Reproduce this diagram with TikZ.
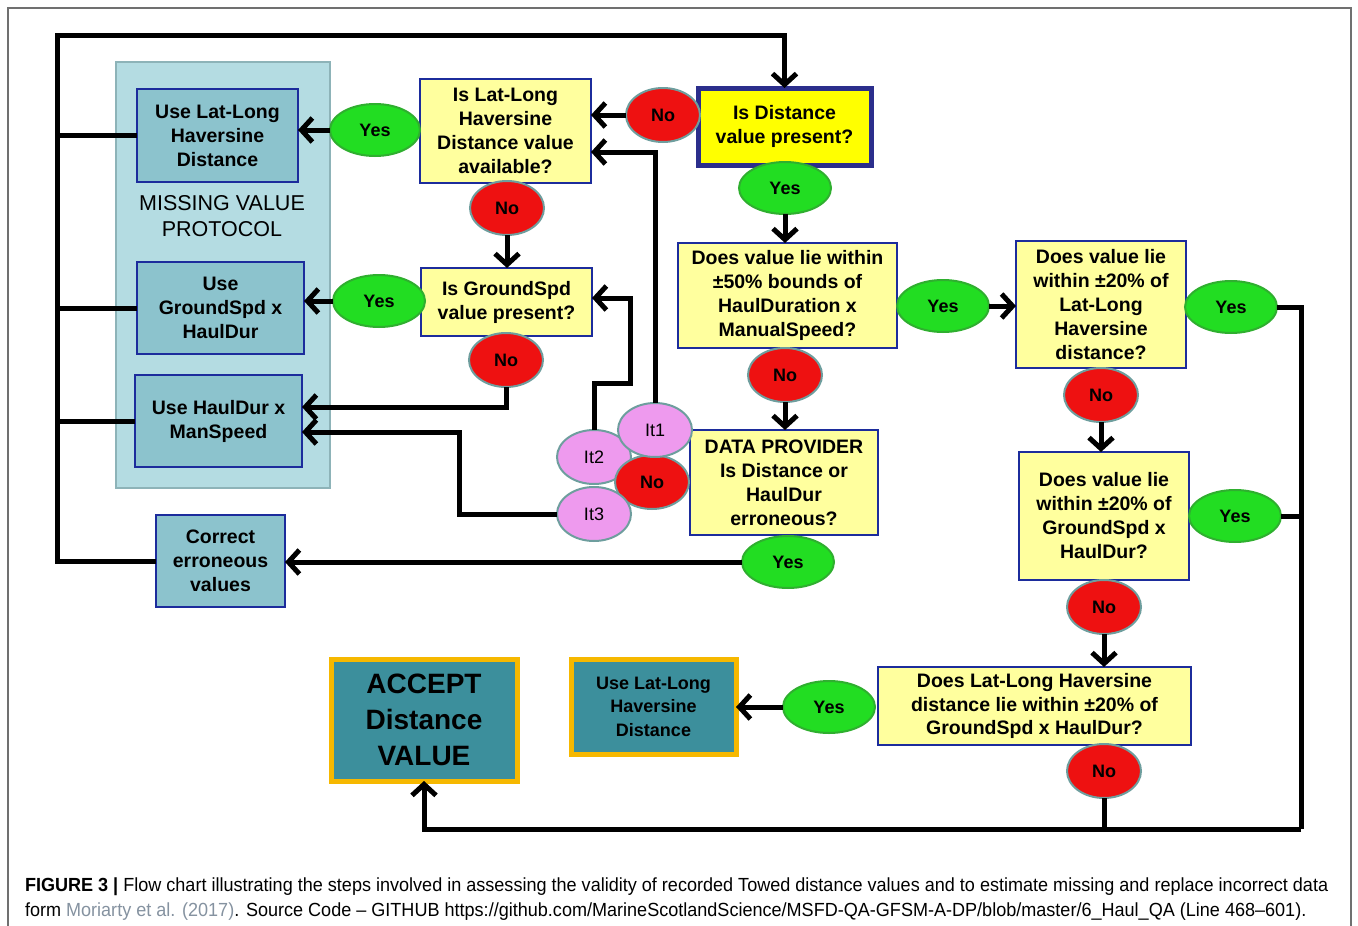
\documentclass[tikz,border=0pt]{standalone}
\usepackage{fontspec}
\setmainfont{Liberation Sans}
\newfontfamily\capfont[FakeStretch=0.95]{Liberation Sans}
\usetikzlibrary{arrows.meta,shapes.geometric,calc}
\definecolor{panelfill}{HTML}{B4DCE2}
\definecolor{panelline}{HTML}{8DB3B8}
\definecolor{tealbox}{HTML}{8CC3CD}
\definecolor{boxline}{HTML}{1C2C9C}
\definecolor{darkteal}{HTML}{3C8F9C}
\definecolor{orangeline}{HTML}{F6B800}
\definecolor{paleyellow}{HTML}{FFFF9E}
\definecolor{brightyellow}{HTML}{FFFF00}
\definecolor{qline}{HTML}{2B2E8C}
\definecolor{redfill}{HTML}{EE1111}
\definecolor{ellline}{HTML}{6E9E9E}
\definecolor{greenfill}{HTML}{22DD22}
\definecolor{greenline}{HTML}{2FAF2F}
\definecolor{pinkfill}{HTML}{EE9AEE}
\definecolor{linkgray}{HTML}{8592A0}
\definecolor{framegray}{HTML}{707070}
\tikzset{
  every node/.style={inner sep=0pt, outer sep=0pt},
  tbox/.style={draw=boxline, line width=2.5pt, fill=tealbox, align=center,
    font=\bfseries\fontsize{19.5}{24}\selectfont},
  ybox/.style={draw=boxline, line width=2.5pt, fill=paleyellow, align=center,
    font=\bfseries\fontsize{19.5}{24}\selectfont},
  obox/.style={draw=orangeline, line width=5pt, fill=darkteal, align=center},
  noell/.style={ellipse, draw=ellline, line width=2pt, fill=redfill,
    minimum width=74pt, minimum height=54pt, font=\bfseries\fontsize{18}{22}\selectfont},
  yesell/.style={ellipse, draw=greenline, line width=2pt, fill=greenfill,
    minimum width=92pt, minimum height=52pt, font=\bfseries\fontsize{18}{22}\selectfont},
  itell/.style={ellipse, draw=ellline, line width=2pt, fill=pinkfill,
    minimum width=74pt, minimum height=54pt, font=\fontsize{18}{22}\selectfont},
  conn/.style={line width=5pt, draw=black},
  arr/.style={conn, -{Straight Barb[length=11pt,width=24pt]}},
}
\begin{document}
\begin{tikzpicture}[x=1pt,y=-1pt]
\useasboundingbox (0,0) rectangle (1358,926);
\draw[framegray, line width=1.5pt] (8,926) -- (8,8) -- (1351,8) -- (1351,926);

% panel
\node[draw=panelline, line width=2.5pt, fill=panelfill, minimum width=214pt, minimum height=426pt] (panel) at (223,275) {};
\node[align=center, font=\fontsize{21.5}{26}\selectfont] (mvp) at (222,216) {MISSING VALUE\\PROTOCOL};

% boxes
\node[tbox, minimum width=161pt, minimum height=93pt] (usell) at (217.5,135.5) {Use Lat-Long\\Haversine\\Distance};
\node[tbox, minimum width=167pt, minimum height=92pt] (usegs) at (220.5,308) {Use\\GroundSpd x\\HaulDur};
\node[tbox, minimum width=167pt, minimum height=92pt] (usehm) at (218.5,421) {Use HaulDur x\\ManSpeed};
\node[tbox, minimum width=129pt, minimum height=92pt] (correct) at (220.5,561) {Correct\\erroneous\\values};

\node[ybox, minimum width=171pt, minimum height=104pt] (qll) at (505.5,131) {Is Lat-Long\\Haversine\\Distance value\\available?};
\node[ybox, draw=qline, line width=5pt, fill=brightyellow, minimum width=173pt, minimum height=77pt] (qdist) at (784.5,126.5) {Is Distance\\value present?};
\node[ybox, minimum width=171pt, minimum height=68pt] (qgs) at (506.5,302) {Is GroundSpd\\value present?};
\node[ybox, minimum width=219pt, minimum height=105pt] (q50) at (787.5,295.5) {Does value lie within\\±50\% bounds of\\HaulDuration x\\ManualSpeed?};
\node[ybox, minimum width=170pt, minimum height=127pt] (q20ll) at (1101,304.5) {Does value lie\\within ±20\% of\\Lat-Long\\Haversine\\distance?};
\node[ybox, minimum width=188pt, minimum height=105pt] (dp) at (784,482.5) {DATA PROVIDER\\Is Distance or\\HaulDur\\erroneous?};
\node[ybox, minimum width=170pt, minimum height=128pt] (q20gs) at (1104,516) {Does value lie\\within ±20\% of\\GroundSpd x\\HaulDur?};
\node[ybox, minimum width=313pt, minimum height=78pt, font=\bfseries\fontsize{19.5}{23.5}\selectfont] (qllgs) at (1034.5,706) {Does Lat-Long Haversine\\distance lie within ±20\% of\\GroundSpd x HaulDur?};

\node[obox, minimum width=165pt, minimum height=95pt, font=\bfseries\fontsize{18}{23.5}\selectfont] (usell2) at (653.5,706.5) {Use Lat-Long\\Haversine\\Distance};
\node[obox, minimum width=186pt, minimum height=122pt, font=\bfseries\fontsize{28}{36}\selectfont] (accept) at (424,720) {ACCEPT\\Distance\\VALUE};

\coordinate (tl) at (57,35);
\coordinate (b2) at (630,383);
\coordinate (rb) at (1301,829);

% connectors behind the ovals
\draw[arr] (correct.west) -| (tl) -| (qdist.north);
\draw[conn] (usell.west) -- (usell.west -| tl);
\draw[conn] (usegs.west) -- (usegs.west -| tl);
\draw[conn] (usehm.west) -- (usehm.west -| tl);

% ovals
\node[noell] (n1) at (663,115) {No};
\node[yesell, minimum width=90pt] (y1) at (375,130) {Yes};
\node[noell] (n2) at (507,208) {No};
\node[yesell] (y2) at (379,301) {Yes};
\node[noell] (n3) at (506,360) {No};
\node[yesell] (y3) at (785,188) {Yes};
\node[yesell] (y4) at (943,306) {Yes};
\node[yesell] (y7) at (1231,307) {Yes};
\node[noell] (n4) at (785,375) {No};
\node[noell] (n5) at (1101,395) {No};
\node[yesell] (y8) at (1235,516) {Yes};
\node[noell] (n6) at (1104,607) {No};
\node[yesell] (y6) at (829,707) {Yes};
\node[noell] (n7) at (1104,771) {No};
\node[yesell] (y5) at (788,562) {Yes};
\node[itell] (it2) at (594,457) {It2};
\node[noell] (n8) at (652,482) {No};
\node[itell] (it1) at (655,430) {It1};
\node[itell] (it3) at (594,514) {It3};

\draw[arr] (n1.west) -- (n1.west -| qll.east);
\draw[arr] (y1.west) -- (y1.west -| usell.east);
\draw[arr] (n2.south) -- (n2.south |- qgs.north);
\draw[arr] (y2.west) -- (y2.west -| usegs.east);
\draw[arr] (n3.south) |- ([yshift=14pt]usehm.east);
\draw[arr] (it3.west) -- ++(-98,0) |- ([yshift=-11pt]usehm.east);
\draw[arr] (it2.north) |- (b2) |- ([yshift=4pt]qgs.east);
\draw[arr] (it1.north) |- ([yshift=-21pt]qll.east);
\draw[arr] (y3.south) -- (y3.south |- q50.north);
\draw[arr] (y4.east) -- (y4.east -| q20ll.west);
\draw[arr] (n4.south) -- (n4.south |- dp.north);
\draw[arr] (y5.west) -- (y5.west -| correct.east);
\draw[arr] (n5.south) -- (n5.south |- q20gs.north);
\draw[arr] (n6.south) -- (n6.south |- qllgs.north);
\draw[arr] (y6.west) -- (y6.west -| usell2.east);
\draw[conn] (y7.east) -| (rb);
\draw[conn] (y8.east) -- (y8.east -| rb);
\draw[arr] (rb) -| (accept.south);
\draw[conn] (n7.south) -- (n7.south |- rb);

% caption
\node[anchor=base west, font=\capfont\fontsize{19}{22}\selectfont] (cap1) at (25,891) {\textbf{FIGURE 3 |} Flow chart illustrating the steps involved in assessing the validity of recorded Towed distance values and to estimate missing and replace incorrect data};
\node[anchor=base west, font=\capfont\fontsize{19}{22}\selectfont] (cap2) at (25,916) {form \textcolor{linkgray}{Moriarty et al. (2017)}. Source Code – GITHUB https://github.com/MarineScotlandScience/MSFD-QA-GFSM-A-DP/blob/master/6\_Haul\_QA (Line 468–601).};
\end{tikzpicture}
\end{document}
